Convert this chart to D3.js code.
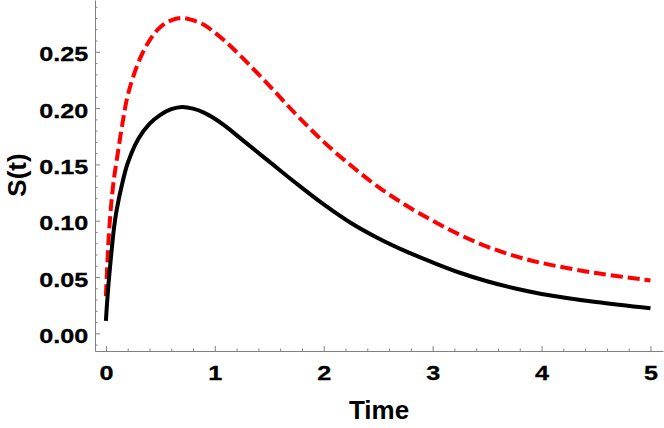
<!DOCTYPE html>
<html>
<head>
<meta charset="utf-8">
<script src="https://cdn.jsdelivr.net/npm/d3@7"></script>
<style>
  body { margin: 0; background: #fff; }
  .tick text { font-family: "Liberation Sans", Arial, sans-serif; font-weight: bold; font-size: 21px; fill: #000; stroke: #000; stroke-width: 0.3px; }
  .axis-title { font-family: "Liberation Sans", Arial, sans-serif; font-weight: bold; font-size: 26px; fill: #000; }
</style>
</head>
<body>
<div id="chart"></div>
<script>
// values
var times = [0, 0.01, 0.025, 0.05, 0.075, 0.1, 0.15, 0.2, 0.3, 0.4, 0.5, 0.6, 0.7, 0.8, 0.9, 1.0, 1.1, 1.25, 1.5, 1.75, 2.0, 2.25, 2.5, 2.75, 3.0, 3.25, 3.5, 3.75, 4.0, 4.5, 5.0];
var solidValues = [0.011, 0.026, 0.045, 0.071, 0.094, 0.110, 0.133, 0.151, 0.173, 0.186, 0.194, 0.199, 0.201, 0.1995, 0.196, 0.1905, 0.1837, 0.172, 0.1525, 0.133, 0.1145, 0.098, 0.0845, 0.073, 0.063, 0.0538, 0.0462, 0.040, 0.035, 0.0278, 0.0222];
var dashedValues = [0.033, 0.055, 0.084, 0.116, 0.138, 0.154, 0.185, 0.211, 0.241, 0.260, 0.272, 0.278, 0.280, 0.278, 0.274, 0.267, 0.259, 0.245, 0.220, 0.194, 0.170, 0.149, 0.130, 0.114, 0.100, 0.0875, 0.077, 0.0688, 0.0625, 0.0535, 0.047];
var xTicks = [0, 1, 2, 3, 4, 5];
var yTicks = [0, 0.05, 0.10, 0.15, 0.20, 0.25];

var width = 664, height = 428;

var svg = d3.select("#chart")
    .append("svg")
    .attr("width", width)
    .attr("height", height);

// scales
var xScale = d3.scaleLinear().domain([-0.1, 5.115]).range([95, 663]);
var yScale = d3.scaleLinear().domain([-0.0157, 0.296]).range([351, 0]);

var axisColor = "#808080";

// minor ticks
var xMinor = d3.range(0.2, 5.01, 0.2).filter(function (d) { return Math.abs(d - Math.round(d)) > 0.01; });
var yMinor = d3.range(-0.01, 0.295, 0.01).filter(function (d) { return Math.abs(d * 20 - Math.round(d * 20)) > 0.01; });

svg.append("g")
    .attr("transform", "translate(0,351)")
    .call(d3.axisBottom(xScale).tickValues(xMinor).tickSize(-2.5).tickFormat(""))
    .call(function (g) { g.select(".domain").remove(); })
    .selectAll("line").attr("stroke", axisColor);

svg.append("g")
    .attr("transform", "translate(95,0)")
    .call(d3.axisLeft(yScale).tickValues(yMinor).tickSize(-2.5).tickFormat(""))
    .call(function (g) { g.select(".domain").remove(); })
    .selectAll("line").attr("stroke", axisColor);

// the tick labels in the picture are a bit wider than the font
function widen(sel) {
    sel.each(function () {
        var w = this.getComputedTextLength();
        d3.select(this)
            .attr("textLength", w * 1.2)
            .attr("lengthAdjust", "spacingAndGlyphs");
    });
}

// x axis
var xAxis = svg.append("g")
    .attr("transform", "translate(0,351)")
    .call(d3.axisBottom(xScale).tickValues(xTicks).tickSizeInner(-5).tickSizeOuter(0).tickFormat(d3.format("d")));
xAxis.select(".domain").attr("stroke", axisColor);
xAxis.selectAll("line").attr("stroke", axisColor);
xAxis.selectAll("text").attr("y", 29).attr("dy", 0).call(widen);

// y axis
var yAxis = svg.append("g")
    .attr("transform", "translate(95,0)")
    .call(d3.axisLeft(yScale).tickValues(yTicks).tickSizeInner(-5).tickSizeOuter(0).tickPadding(6.7).tickFormat(d3.format(".2f")));
yAxis.select(".domain").attr("stroke", axisColor);
yAxis.selectAll("line").attr("stroke", axisColor);
yAxis.selectAll("text").attr("dy", "0.43em").call(widen);

// axis titles
svg.append("text")
    .attr("class", "axis-title")
    .attr("x", 379)
    .attr("y", 419)
    .style("text-anchor", "middle")
    .text("Time");

svg.append("text")
    .attr("class", "axis-title")
    .attr("transform", "translate(26,175) rotate(-90)")
    .style("text-anchor", "middle")
    .text("S(t)");

// curves
var line = d3.line()
    .x(function (d) { return xScale(d[0]); })
    .y(function (d) { return yScale(d[1]); })
    .curve(d3.curveCatmullRom.alpha(0.5));

svg.append("path")
    .datum(d3.zip(times, dashedValues))
    .attr("fill", "none")
    .attr("stroke", "#ff0000")
    .attr("stroke-width", 4)
    .attr("stroke-dasharray", "12,5")
    .attr("d", line);

svg.append("path")
    .datum(d3.zip(times, solidValues))
    .attr("fill", "none")
    .attr("stroke", "#000")
    .attr("stroke-width", 4)
    .attr("d", line);
</script>
</body>
</html>
